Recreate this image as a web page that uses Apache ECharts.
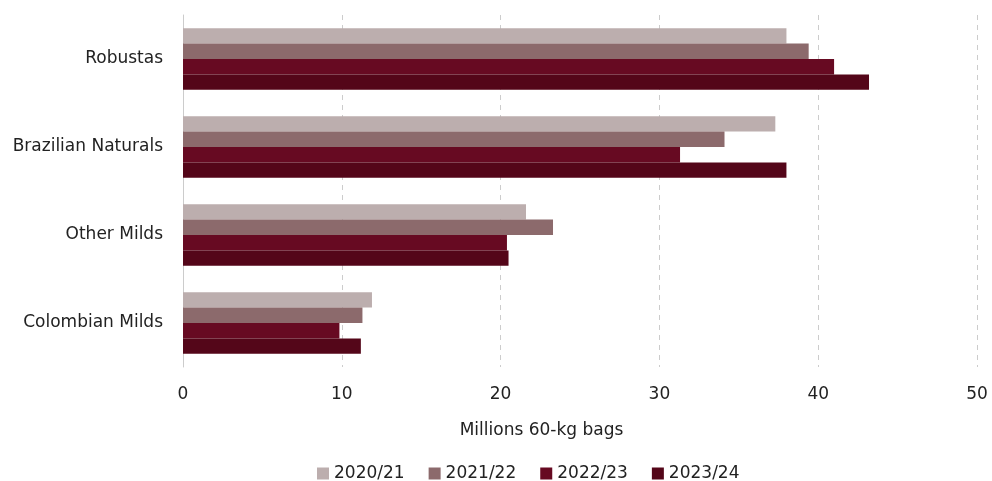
<!DOCTYPE html>
<html><head><meta charset="utf-8">
<script src="https://cdn.jsdelivr.net/npm/echarts@6/dist/echarts.min.js"></script>
<style>html,body{margin:0;padding:0;background:#fff}#c{width:992px;height:481px}</style>
</head><body><div id="c"></div>
<script>
const categories = ["Robustas", "Brazilian Naturals", "Other Milds", "Colombian Milds"];
const seriesNames = ["2020/21", "2021/22", "2022/23", "2023/24"];
const s2020 = [38.0, 37.3, 21.6, 11.9];
const s2021 = [39.4, 34.1, 23.3, 11.3];
const s2022 = [41.0, 31.3, 20.4, 9.85];
const s2023 = [43.2, 38.0, 20.5, 11.2];
const colors = ["#bcaeae", "#8c6a6c", "#670a22", "#540619"];
const xTicks = [0, 10, 20, 30, 40, 50];

const font = "DejaVu Sans";
const fs = 17;
const chart = echarts.init(document.getElementById('c'));
const data = [s2020, s2021, s2022, s2023];
chart.setOption({
  animation: false,
  color: colors,
  textStyle: {fontFamily: font},
  grid: {left: 183, right: 15, top: 15, bottom: 114},
  legend: {
    top: 460, left: 312, icon: 'rect', itemWidth: 12, itemHeight: 12, itemGap: 24,
    textStyle: {fontFamily: font, fontSize: fs, color: '#222'},
    data: seriesNames
  },
  xAxis: {
    type: 'value', min: xTicks[0], max: xTicks[xTicks.length-1], interval: 10,
    name: 'Millions 60-kg bags', nameLocation: 'middle', nameGap: 55,
    nameTextStyle: {fontFamily: font, fontSize: fs, color: '#222', padding: [0, 77, 0, 0]},
    axisLine: {show: false}, axisTick: {show: false},
    axisLabel: {fontFamily: font, fontSize: fs, color: '#222', margin: 19},
    splitLine: {show: true, lineStyle: {color: '#cccccc', type: [5, 5], width: 1}}
  },
  yAxis: {
    type: 'category', data: categories, inverse: true,
    axisLine: {show: true, lineStyle: {color: '#cccccc', width: 1}},
    axisTick: {show: false},
    axisLabel: {fontFamily: font, fontSize: fs, color: '#222', margin: 20}
  },
  series: seriesNames.map((n, i) => ({
    name: n, type: 'bar', data: data[i], barGap: '0%', barCategoryGap: '30%',
    itemStyle: {color: colors[i]}
  }))
});
</script></body></html>
